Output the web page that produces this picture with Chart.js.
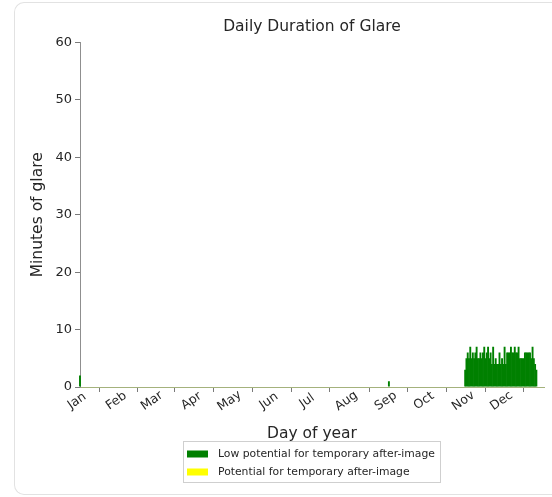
<!DOCTYPE html>
<html>
<head>
<meta charset="utf-8">
<script src="https://cdn.jsdelivr.net/npm/chart.js@4/dist/chart.umd.min.js"></script>
<style>
  html, body { margin: 0; padding: 0; background: #ffffff; overflow: hidden; }
  #wrap { position: relative; width: 552px; height: 497px; overflow: hidden; }
  #card { position: absolute; left: 14px; top: 2px; width: 700px; height: 491px;
          border: 1px solid #e2e2e2; border-right: none; border-radius: 10px 0 0 10px; background: #fff; }
  #c { position: absolute; left: 0; top: 0; }
</style>
</head>
<body>
<div id="wrap">
  <div id="card"></div>
  <canvas id="c" width="552" height="497"></canvas>
</div>
<script>
// ---- data ----
const monthNames = ['Jan','Feb','Mar','Apr','May','Jun','Jul','Aug','Sep','Oct','Nov','Dec'];
const monthStartDays = [0, 31, 59, 90, 120, 151, 181, 212, 243, 273, 304, 334];
const yTicks = [0, 10, 20, 30, 40, 50, 60];

// days (0-based day of year) with glare, and minutes for "low potential"
const glareDays = [0, 243,
  303,304,305,306,307,308,309,310,311,312,313,314,315,316,317,318,319,320,
  321,322,323,324,325,326,327,328,329,330,331,332,333,334,335,336,337,338,339,340,
  341,342,343,344,345,346,347,348,349,350,351,352,353,354,355,356,357,358,359];
const lowPotentialMinutes = [2, 1,
  3,5,6,5,7,5,6,5,6,7,5,5,6,5,6,7,5,6,
  7,5,6,4,7,4,5,4,4,6,4,5,4,7,4,6,6,6,7,6,
  6,7,6,6,7,5,5,5,5,6,6,6,6,6,5,7,5,4,3];
const afterImageMinutes = glareDays.map(() => 0); // none in this year

const FONT = "'DejaVu Sans', sans-serif";
const TXT = '#262626';

const lowData = glareDays.map((d, i) => ({ x: d, y: lowPotentialMinutes[i] }));
const highData = glareDays.map((d, i) => ({ x: d, y: afterImageMinutes[i] }));

// custom legend box (matplotlib style)
const boxLegend = {
  id: 'boxLegend',
  afterDraw(chart) {
    const ctx = chart.ctx;
    const x0 = 183.5, y0 = 441.5, w = 257, h = 41;
    ctx.save();
    ctx.fillStyle = 'rgba(255,255,255,0.9)';
    ctx.fillRect(x0, y0, w, h);
    ctx.strokeStyle = '#cfcfcf';
    ctx.lineWidth = 1;
    ctx.strokeRect(x0, y0, w, h);
    ctx.font = '10.8px ' + FONT;
    ctx.textBaseline = 'middle';
    ctx.textAlign = 'left';
    const rows = [454, 472];
    chart.data.datasets.forEach((ds, i) => {
      ctx.fillStyle = ds.backgroundColor;
      ctx.fillRect(187, rows[i] - 3.5, 21, 7);
      ctx.fillStyle = TXT;
      ctx.fillText(ds.label, 218, rows[i]);
    });
    ctx.restore();
  }
};

// centered rotated month labels
const monthLabels = {
  id: 'monthLabels',
  afterDraw(chart) {
    const sx = chart.scales.x;
    const ctx = chart.ctx;
    ctx.save();
    ctx.font = '12.5px ' + FONT;
    ctx.fillStyle = TXT;
    ctx.textAlign = 'center';
    ctx.textBaseline = 'middle';
    sx.ticks.forEach((t, i) => {
      const px = sx.getPixelForValue(t.value) - 3;
      ctx.save();
      ctx.translate(px, chart.chartArea.bottom + 14);
      ctx.rotate(-35 * Math.PI / 180);
      ctx.fillText(monthNames[i], 0, 0);
      ctx.restore();
    });
    ctx.restore();
  }
};

new Chart(document.getElementById('c'), {
  type: 'bar',
  data: {
    datasets: [
      { label: 'Low potential for temporary after-image', data: lowData,
        backgroundColor: '#008000', borderWidth: 0, grouped: false,
        clip: { left: 2, top: 0, right: 0, bottom: 0 },
        barPercentage: 1.5, categoryPercentage: 1.0 },
      { label: 'Potential for temporary after-image', data: highData,
        backgroundColor: '#ffff00', borderWidth: 0, grouped: false,
        barPercentage: 1.5, categoryPercentage: 1.0 }
    ]
  },
  options: {
    responsive: false,
    animation: false,
    devicePixelRatio: 1,
    layout: { padding: { left: 0, right: 8, top: 0, bottom: 50 } },
    plugins: {
      legend: { display: false },
      tooltip: { enabled: false },
      title: {
        display: true, text: 'Daily Duration of Glare', fullSize: false,
        color: TXT, font: { family: FONT, size: 15.5, weight: 'normal' },
        padding: { top: 18, bottom: 6 }
      }
    },
    scales: {
      x: {
        type: 'linear', min: 0, max: 365, offset: false, stacked: false,
        afterBuildTicks(scale) { scale.ticks = monthStartDays.map(v => ({ value: v })); },
        afterFit(scale) { scale.height = 60; },
        ticks: { display: false },
        grid: { display: true, drawOnChartArea: false, drawTicks: true, tickLength: 5, color: '#7a7a7a' },
        border: { display: true, color: '#a4b27c', width: 1 },
        title: { display: true, text: 'Day of year', color: TXT,
                 font: { family: FONT, size: 15.5 }, padding: { top: 0, bottom: 4 } }
      },
      y: {
        min: 0, max: 60,
        afterBuildTicks(scale) { scale.ticks = yTicks.map(v => ({ value: v })); },
        afterFit(scale) { scale.width = 80; },
        ticks: { color: TXT, font: { family: FONT, size: 13 }, padding: 3 },
        grid: { display: true, drawOnChartArea: false, drawTicks: true, tickLength: 5, color: '#7a7a7a' },
        border: { display: true, color: '#8f8f8f', width: 1 },
        title: { display: true, text: 'Minutes of glare', color: TXT,
                 font: { family: FONT, size: 15.5 }, padding: { top: 29, bottom: 0 } }
      }
    }
  },
  plugins: [monthLabels, boxLegend]
});
</script>
</body>
</html>
